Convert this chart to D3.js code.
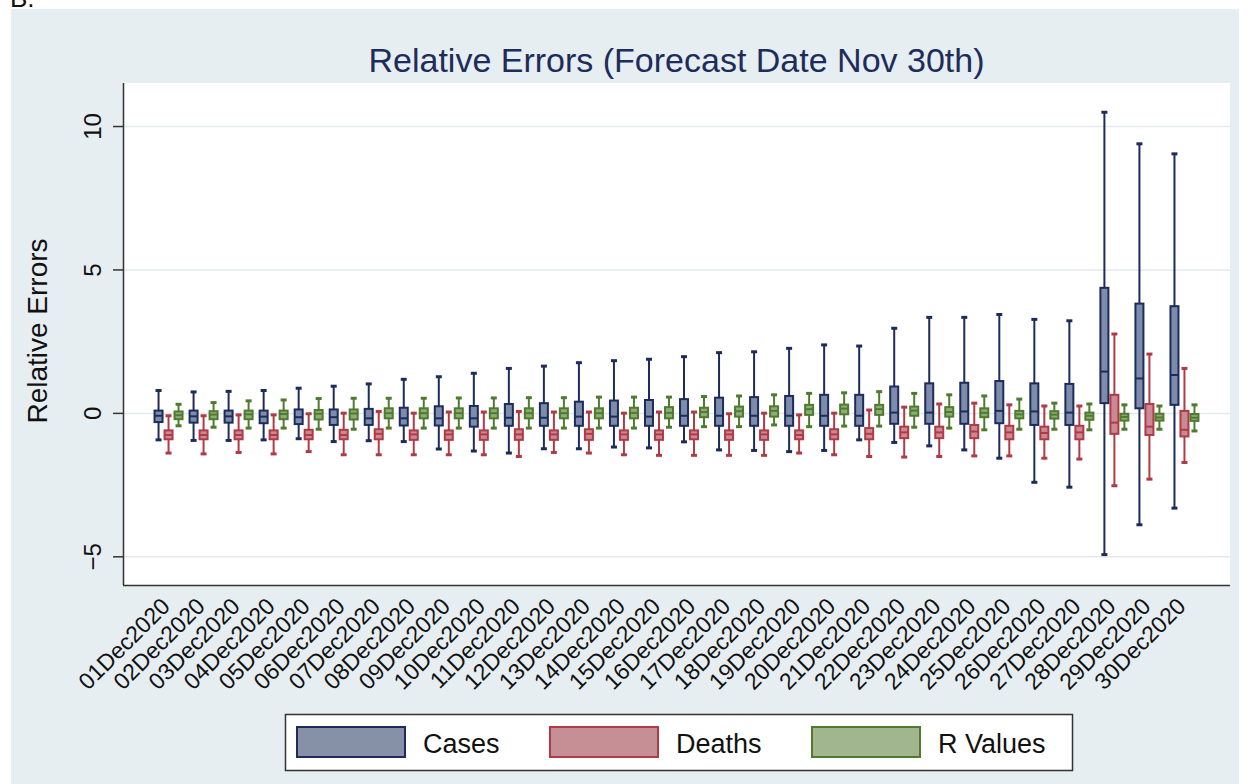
<!DOCTYPE html>
<html>
<head>
<meta charset="utf-8">
<script src="https://cdn.jsdelivr.net/npm/d3@7"></script>
<style>
  body { margin: 0; background: #fff; }
  text { font-family: 'Liberation Sans', Arial, Helvetica, sans-serif; }
</style>
</head>
<body>
<script>
const dates = ['01Dec2020', '02Dec2020', '03Dec2020', '04Dec2020', '05Dec2020', '06Dec2020',
  '07Dec2020', '08Dec2020', '09Dec2020', '10Dec2020', '11Dec2020', '12Dec2020', '13Dec2020',
  '14Dec2020', '15Dec2020', '16Dec2020', '17Dec2020', '18Dec2020', '19Dec2020', '20Dec2020',
  '21Dec2020', '22Dec2020', '23Dec2020', '24Dec2020', '25Dec2020', '26Dec2020', '27Dec2020',
  '28Dec2020', '29Dec2020', '30Dec2020']

const seriesNames = ['Cases', 'Deaths', 'R Values']
const yTicks = [-5, 0, 5, 10]

// [lower whisker, q1, median, q3, upper whisker] per date
const cases = [
  [-0.94, -0.32, -0.10, 0.08, 0.78], [-0.96, -0.34, -0.12, 0.08, 0.73], [-0.96, -0.34, -0.12, 0.08, 0.75],
  [-0.94, -0.36, -0.13, 0.08, 0.78], [-0.90, -0.39, -0.15, 0.12, 0.86], [-1.00, -0.42, -0.15, 0.12, 0.93],
  [-0.97, -0.42, -0.19, 0.14, 1.01], [-1.00, -0.44, -0.19, 0.18, 1.17], [-1.26, -0.44, -0.19, 0.23, 1.26],
  [-1.33, -0.48, -0.19, 0.24, 1.38], [-1.40, -0.45, -0.17, 0.31, 1.55], [-1.25, -0.45, -0.17, 0.34, 1.63],
  [-1.25, -0.45, -0.13, 0.39, 1.75], [-1.19, -0.45, -0.13, 0.43, 1.82], [-1.22, -0.45, -0.13, 0.45, 1.87],
  [-1.01, -0.45, -0.10, 0.48, 1.96], [-1.29, -0.45, -0.10, 0.53, 2.10], [-1.31, -0.45, -0.10, 0.55, 2.13],
  [-1.35, -0.45, -0.10, 0.59, 2.25], [-1.31, -0.45, -0.10, 0.63, 2.37], [-0.94, -0.45, -0.10, 0.63, 2.33],
  [-1.03, -0.38, 0.01, 0.92, 2.95], [-1.15, -0.38, 0.01, 1.03, 3.33], [-1.29, -0.38, 0.05, 1.05, 3.33],
  [-1.58, -0.36, 0.07, 1.11, 3.43], [-2.42, -0.42, 0.05, 1.03, 3.26], [-2.59, -0.42, 0.01, 1.01, 3.21],
  [-4.94, 0.34, 1.44, 4.36, 10.48], [-3.90, 0.16, 1.20, 3.81, 9.38], [-3.32, 0.28, 1.32, 3.72, 9.03]
]

const deaths = [
  [-1.40, -0.92, -0.77, -0.61, -0.10], [-1.43, -0.92, -0.77, -0.61, -0.10], [-1.38, -0.92, -0.77, -0.61, -0.07],
  [-1.43, -0.92, -0.77, -0.61, -0.07], [-1.35, -0.92, -0.77, -0.59, -0.03], [-1.46, -0.92, -0.77, -0.59, -0.01],
  [-1.46, -0.92, -0.73, -0.57, 0.05], [-1.46, -0.94, -0.75, -0.61, -0.01], [-1.46, -0.94, -0.75, -0.61, 0.03],
  [-1.46, -0.94, -0.75, -0.61, 0.03], [-1.52, -0.94, -0.75, -0.57, 0.05], [-1.38, -0.94, -0.75, -0.61, 0.03],
  [-1.40, -0.94, -0.73, -0.57, 0.03], [-1.46, -0.94, -0.75, -0.61, -0.01], [-1.48, -0.94, -0.75, -0.61, 0.03],
  [-1.48, -0.92, -0.75, -0.61, 0.03], [-1.48, -0.94, -0.75, -0.61, -0.03], [-1.48, -0.94, -0.75, -0.61, -0.01],
  [-1.40, -0.92, -0.77, -0.61, -0.07], [-1.46, -0.92, -0.75, -0.57, -0.01], [-1.52, -0.92, -0.73, -0.53, 0.10],
  [-1.54, -0.88, -0.68, -0.48, 0.20], [-1.52, -0.88, -0.68, -0.48, 0.31], [-1.50, -0.88, -0.65, -0.42, 0.34],
  [-1.50, -0.92, -0.68, -0.45, 0.28], [-1.58, -0.92, -0.70, -0.48, 0.24], [-1.61, -0.92, -0.68, -0.45, 0.24],
  [-2.54, -0.73, -0.34, 0.63, 2.75], [-2.31, -0.77, -0.48, 0.31, 2.05], [-1.73, -0.82, -0.59, 0.07, 1.55]
]

const rValues = [
  [-0.45, -0.22, -0.08, 0.05, 0.30], [-0.50, -0.22, -0.06, 0.06, 0.36], [-0.53, -0.22, -0.05, 0.08, 0.42],
  [-0.53, -0.22, -0.04, 0.08, 0.45], [-0.57, -0.23, -0.03, 0.10, 0.50], [-0.57, -0.23, -0.02, 0.12, 0.51],
  [-0.53, -0.19, -0.01, 0.16, 0.51], [-0.53, -0.19, -0.01, 0.16, 0.51], [-0.53, -0.19, -0.01, 0.16, 0.52],
  [-0.53, -0.19, -0.01, 0.16, 0.52], [-0.53, -0.19, -0.01, 0.16, 0.53], [-0.53, -0.19, -0.01, 0.16, 0.53],
  [-0.53, -0.19, -0.01, 0.16, 0.55], [-0.53, -0.19, 0.00, 0.18, 0.55], [-0.50, -0.19, 0.00, 0.20, 0.55],
  [-0.48, -0.15, 0.03, 0.18, 0.57], [-0.48, -0.13, 0.06, 0.22, 0.59], [-0.42, -0.13, 0.07, 0.23, 0.63],
  [-0.48, -0.07, 0.13, 0.28, 0.68], [-0.46, -0.05, 0.15, 0.29, 0.70], [-0.46, -0.07, 0.13, 0.28, 0.74],
  [-0.50, -0.10, 0.08, 0.22, 0.68], [-0.53, -0.13, 0.03, 0.20, 0.63], [-0.59, -0.15, 0.00, 0.16, 0.59],
  [-0.57, -0.19, -0.05, 0.07, 0.48], [-0.57, -0.20, -0.06, 0.06, 0.34], [-0.59, -0.24, -0.10, 0.01, 0.31],
  [-0.57, -0.27, -0.14, -0.03, 0.28], [-0.57, -0.27, -0.16, -0.03, 0.24], [-0.63, -0.28, -0.17, -0.04, 0.28]
]

function drawChart() {
  const svgWidth = 1248, svgHeight = 784
  const plot = {left: 123, right: 1230, top: 83, bottom: 585}
  const strokes = ['#1d2c5a', '#b13a47', '#4f7b2f']
  const fills = ['#7d8cab', '#c98a93', '#8fab78']
  const legendFills = ['#8690a6', '#c68f96', '#a1b68e']
  const allStats = [cases, deaths, rValues]

  const svg = d3.select('body').append('svg')
    .attr('width', svgWidth)
    .attr('height', svgHeight)

  svg.append('rect')
    .attr('x', 11).attr('y', 9)
    .attr('width', 1228).attr('height', svgHeight - 9)
    .attr('fill', '#e6eef1')

  svg.append('text')
    .attr('x', 10).attr('y', 7)
    .attr('font-size', 26)
    .attr('fill', '#111')
    .text('B.')

  svg.append('rect')
    .attr('x', plot.left).attr('y', plot.top)
    .attr('width', plot.right - plot.left).attr('height', plot.bottom - plot.top)
    .attr('fill', '#fff')

  const x = d3.scaleBand()
    .domain(dates)
    .range([plot.left, plot.right])
    .paddingInner(0)
    .paddingOuter(0.8)

  const xSeries = d3.scalePoint()
    .domain(seriesNames)
    .range([-10, 10])

  const y = d3.scaleLinear()
    .domain([-6, 11.5])
    .range([plot.bottom, plot.top])

  // gridlines
  svg.append('g')
    .attr('transform', 'translate(' + plot.left + ',0)')
    .call(d3.axisLeft(y).tickValues(yTicks).tickSize(-(plot.right - plot.left)).tickFormat(''))
    .call(g => g.select('.domain').remove())
    .call(g => g.selectAll('line').attr('stroke', '#e2eaee').attr('stroke-width', 1.5))

  // y axis
  const yAxis = svg.append('g')
    .attr('transform', 'translate(' + plot.left + ',0)')
    .call(d3.axisLeft(y).tickValues(yTicks).tickSize(10).tickSizeOuter(0).tickFormat(d3.format('d')))
  yAxis.select('.domain').attr('stroke', '#333').attr('stroke-width', 1.5)
    .attr('d', 'M0.5,' + plot.top + 'V' + plot.bottom)
  yAxis.selectAll('.tick line').attr('stroke', '#333').attr('stroke-width', 1.5)
  yAxis.selectAll('.tick text')
    .attr('font-size', 24)
    .attr('fill', '#111')
    .attr('x', null).attr('dy', null)
    .attr('text-anchor', 'middle')
    .attr('transform', 'translate(-22,0) rotate(-90)')

  // x axis
  const xAxis = svg.append('g')
    .attr('transform', 'translate(0,' + plot.bottom + ')')
    .call(d3.axisBottom(x).tickSize(0).tickSizeOuter(0))
  xAxis.select('.domain').attr('stroke', '#333').attr('stroke-width', 1.5)
    .attr('d', 'M' + plot.left + ',0.5H' + plot.right)
  xAxis.selectAll('.tick text')
    .attr('font-size', 23)
    .attr('fill', '#111')
    .attr('text-anchor', 'end')
    .attr('y', 0).attr('dy', '0.35em')
    .attr('transform', 'translate(-3,17) rotate(-45)')

  // boxes
  const boxW = 8, capW = 6
  seriesNames.forEach(function(name, si) {
    const g = svg.append('g')
    const items = g.selectAll('g.box')
      .data(dates.map(function(d, i) { return {date: d, s: allStats[si][i]} }))
      .enter().append('g')
      .attr('class', 'box')
      .attr('transform', function(d) {
        return 'translate(' + (x(d.date) + x.bandwidth() / 2 + xSeries(name)) + ',0)'
      })
      .attr('stroke', strokes[si])

    items.append('line')
      .attr('y1', function(d) { return y(d.s[0]) })
      .attr('y2', function(d) { return y(d.s[4]) })
      .attr('stroke-width', 2)
    items.selectAll('line.cap')
      .data(function(d) { return [d.s[0], d.s[4]] })
      .enter().append('line')
      .attr('class', 'cap')
      .attr('x1', -capW / 2).attr('x2', capW / 2)
      .attr('y1', function(v) { return y(v) })
      .attr('y2', function(v) { return y(v) })
      .attr('stroke-width', 3)
    items.append('rect')
      .attr('x', -boxW / 2)
      .attr('width', boxW)
      .attr('y', function(d) { return y(d.s[3]) })
      .attr('height', function(d) { return y(d.s[1]) - y(d.s[3]) })
      .attr('fill', fills[si])
      .attr('stroke-width', 2)
    items.append('line')
      .attr('x1', -boxW / 2).attr('x2', boxW / 2)
      .attr('y1', function(d) { return y(d.s[2]) })
      .attr('y2', function(d) { return y(d.s[2]) })
      .attr('stroke-width', 2)
  })

  // title
  svg.append('text')
    .attr('x', (plot.left + plot.right) / 2)
    .attr('y', 72)
    .attr('text-anchor', 'middle')
    .attr('font-size', 34)
    .attr('fill', '#1d2c5a')
    .text('Relative Errors (Forecast Date Nov 30th)')

  svg.append('text')
    .attr('transform', 'translate(47,' + ((plot.top + plot.bottom) / 2 - 3) + ') rotate(-90)')
    .attr('text-anchor', 'middle')
    .attr('font-size', 28)
    .attr('fill', '#111')
    .text('Relative Errors')

  // legend
  const legend = svg.append('g')
  legend.append('rect')
    .attr('x', 285.5).attr('y', 714.5)
    .attr('width', 787).attr('height', 56)
    .attr('fill', '#fff')
    .attr('stroke', '#333')
    .attr('stroke-width', 1.5)
  const legendX = d3.scaleOrdinal().domain(seriesNames).range([297, 550, 812])
  const items = legend.selectAll('g.item')
    .data(seriesNames)
    .enter().append('g')
    .attr('class', 'item')
    .attr('transform', function(d) { return 'translate(' + legendX(d) + ',727)' })
  items.append('rect')
    .attr('width', 108).attr('height', 30)
    .attr('fill', function(d, i) { return legendFills[i] })
    .attr('stroke', function(d, i) { return strokes[i] })
    .attr('stroke-width', 2)
  items.append('text')
    .attr('x', 126).attr('y', 26)
    .attr('font-size', 27)
    .attr('fill', '#111')
    .text(function(d) { return d })
}

drawChart()
</script>
</body>
</html>
